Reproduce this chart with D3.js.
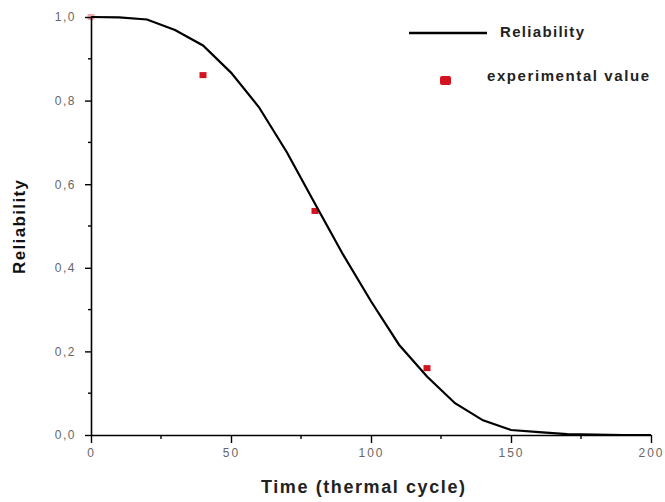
<!DOCTYPE html>
<html><head><meta charset="utf-8">
<script src="https://cdn.jsdelivr.net/npm/d3@7"></script>
<style>
body{margin:0;background:#fff;}
svg{display:block;font-family:"Liberation Sans",Arial,sans-serif;}
</style></head>
<body><svg id="chart" width="665" height="502"></svg>
<script>
// Reliability curve
const curveTime = [0,10,20,30,40,50,60,70,80,90,100,110,120,130,140,150,160,170,180,190,200];
const curveReliability = [1.0,0.999,0.994,0.969,0.932,0.867,0.784,0.676,0.553,0.432,0.32,0.216,0.14,0.076,0.035,0.012,0.007,0.002,0.001,0.0,0.0];
// Experimental values
const expTime = [0,40,80,120];
const expReliability = [1.0,0.861,0.536,0.16];
// Ticks
const xMajorTicks = [0,50,100,150,200];
const xMinorTicks = [25,75,125,175];
const yMajorTicks = [0,0.2,0.4,0.6,0.8,1.0];
const yMinorTicks = [0.1,0.3,0.5,0.7,0.9];
const xTitle = "Time (thermal cycle)";
const yTitle = "Reliability";
const legendLine = "Reliability";
const legendPoint = "experimental value";

const svg = d3.select("#chart");
const x = d3.scaleLinear().domain([0,200]).range([91,651]);
const y = d3.scaleLinear().domain([0,1]).range([435,17]);
const red = "#d3131f";

// points first (under the axes)
svg.append("g").selectAll("rect").data(expTime.map((t,i)=>[t,expReliability[i]]))
  .enter().append("rect")
  .attr("x",d=>x(d[0])-3.5).attr("y",d=>y(d[1])-3)
  .attr("width",7).attr("height",6).attr("fill",red)
  .attr("opacity",(d,i)=>i===0?0.35:1);

// curve
const line = d3.line().x((d,i)=>x(curveTime[i])).y(d=>y(d));
svg.append("path").datum(curveReliability).attr("d",line)
  .attr("fill","none").attr("stroke","#000").attr("stroke-width",2.2);

const fmtY = d => d3.format(".1f")(d).replace(".",",");

// x axis
const gx = svg.append("g").attr("transform","translate(0,435)");
gx.call(d3.axisBottom(x).tickValues(xMajorTicks).tickSize(8).tickSizeOuter(0).tickPadding(5).tickFormat(d3.format("d")));
gx.select(".domain").attr("stroke-width",1.6);
gx.selectAll(".tick line").attr("stroke-width",1.4);
gx.selectAll(".tick text").attr("font-size",12).attr("fill","#666").attr("letter-spacing","2px").attr("font-family","Liberation Sans, Arial");
gx.append("g").selectAll("line").data(xMinorTicks).enter().append("line")
  .attr("x1",d=>x(d)).attr("x2",d=>x(d)).attr("y1",0).attr("y2",4).attr("stroke","#000").attr("stroke-width",1.4);

// y axis
const gy = svg.append("g").attr("transform","translate(91,0)");
gy.call(d3.axisLeft(y).tickValues(yMajorTicks).tickSize(6).tickSizeOuter(0).tickPadding(9).tickFormat(fmtY));
gy.select(".domain").attr("stroke-width",1.6);
gy.selectAll(".tick line").attr("stroke-width",1.4);
gy.selectAll(".tick text").attr("font-size",12).attr("fill","#666").attr("letter-spacing","1.5px").attr("font-family","Liberation Sans, Arial");
gy.append("g").selectAll("line").data(yMinorTicks).enter().append("line")
  .attr("y1",d=>y(d)).attr("y2",d=>y(d)).attr("x1",0).attr("x2",-3).attr("stroke","#000").attr("stroke-width",1.4);

// titles
svg.append("text").attr("x",363).attr("y",493).attr("text-anchor","middle")
  .attr("font-size",18).attr("font-weight","bold").attr("fill","#222")
  .attr("textLength",204).attr("lengthAdjust","spacing").text(xTitle);
svg.append("text").attr("transform","translate(25,227) rotate(-90)").attr("text-anchor","middle")
  .attr("font-size",17).attr("font-weight","bold").attr("fill","#111")
  .attr("textLength",94).attr("lengthAdjust","spacing").text(yTitle);

// legend
svg.append("line").attr("x1",409).attr("x2",487).attr("y1",33).attr("y2",33)
  .attr("stroke","#000").attr("stroke-width",2.4);
svg.append("text").attr("x",500).attr("y",37).attr("font-size",15).attr("font-weight","bold").attr("fill","#222")
  .attr("textLength",84).attr("lengthAdjust","spacing").text(legendLine);
svg.append("rect").attr("x",440).attr("y",76).attr("width",11).attr("height",9).attr("rx",2).attr("fill",red);
svg.append("text").attr("x",487).attr("y",81).attr("font-size",15).attr("font-weight","bold").attr("fill","#222")
  .attr("textLength",162).attr("lengthAdjust","spacing").text(legendPoint);
</script></body></html>
